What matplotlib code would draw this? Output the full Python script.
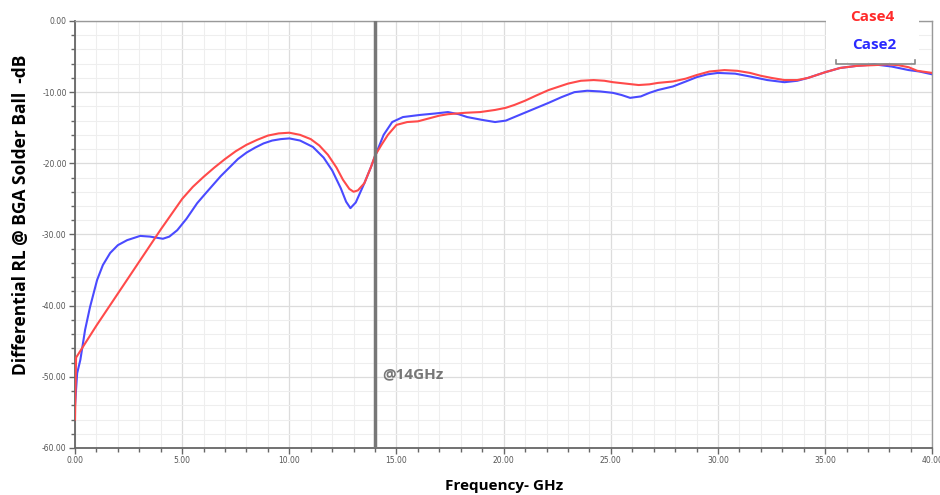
import numpy as np
import matplotlib
matplotlib.use("Agg")
from matplotlib import pyplot as plt
from matplotlib.patches import Rectangle
from matplotlib.ticker import MultipleLocator, FormatStrFormatter

# Return loss at the BGA solder ball, two cases
freq_case4 = [0.0, 0.05, 1.0, 2.0, 3.0, 4.0, 5.0, 5.5, 6.0, 6.5, 7.0, 7.5, 8.0, 8.5, 9.0,
              9.5, 10.0, 10.5, 11.0, 11.4, 11.8, 12.2, 12.5, 12.8, 13.0, 13.2, 13.5,
              13.8, 14.0, 14.3, 14.6, 15.0, 15.5, 16.0, 16.5, 17.0, 17.4, 18.2, 18.9,
              19.6, 20.1, 20.5, 21.0, 21.5, 22.1, 22.6, 23.0, 23.6, 24.2, 24.7, 25.1,
              25.7, 26.3, 26.8, 27.2, 27.9, 28.5, 29.0, 29.6, 30.3, 30.9, 31.5, 32.0,
              32.5, 33.1, 33.7, 34.2, 34.6, 35.0, 35.7, 36.5, 37.3, 37.9, 38.4, 38.9,
              39.3, 40.0]
rl_case4 = [-56.0, -47.3, -42.8, -38.3, -33.8, -29.3, -25.0, -23.3, -21.9, -20.6, -19.4,
            -18.3, -17.4, -16.7, -16.1, -15.8, -15.7, -16.0, -16.6, -17.5, -18.8, -20.6,
            -22.3, -23.6, -24.0, -23.8, -22.8, -20.6, -18.9, -17.4, -16.0, -14.6, -14.2,
            -14.1, -13.7, -13.3, -13.1, -12.9, -12.8, -12.5, -12.2, -11.8, -11.2, -10.5,
            -9.7, -9.2, -8.8, -8.4, -8.3, -8.4, -8.6, -8.8, -9.0, -8.9, -8.7, -8.5,
            -8.1, -7.6, -7.1, -6.9, -7.0, -7.3, -7.7, -8.0, -8.3, -8.3, -8.0, -7.6,
            -7.2, -6.6, -6.3, -6.2, -6.1, -6.2, -6.5, -7.0, -7.3]

freq_case2 = [0.0, 0.1, 0.25, 0.47, 0.7, 1.03, 1.3, 1.64, 2.0, 2.43, 3.04, 3.5, 4.1, 4.4,
              4.77, 5.2, 5.7, 6.1, 6.45, 6.8, 7.2, 7.6, 8.0, 8.4, 8.8, 9.2, 9.6, 10.0,
              10.5, 11.1, 11.6, 12.0, 12.4, 12.65, 12.85, 13.1, 13.5, 13.8, 14.0, 14.4,
              14.8, 15.3, 16.1, 16.8, 17.4, 17.9, 18.3, 19.0, 19.6, 20.1, 20.5, 21.3,
              22.1, 22.7, 23.3, 23.9, 24.5, 25.1, 25.5, 25.9, 26.4, 26.8, 27.2, 27.9,
              28.5, 29.0, 29.5, 30.0, 30.8, 31.5, 32.3, 33.1, 33.7, 34.2, 34.6, 35.0,
              35.7, 36.5, 37.3, 38.1, 38.9, 39.4, 40.0]
rl_case2 = [-54.0, -49.5, -47.6, -43.4, -40.2, -36.4, -34.3, -32.6, -31.5, -30.8, -30.2,
            -30.3, -30.6, -30.3, -29.4, -27.8, -25.6, -24.2, -23.0, -21.8, -20.6, -19.4,
            -18.5, -17.8, -17.2, -16.8, -16.6, -16.5, -16.8, -17.7, -19.2, -21.0, -23.5,
            -25.4, -26.3, -25.5, -22.8, -20.6, -19.0, -16.0, -14.2, -13.5, -13.2, -13.0,
            -12.8, -13.1, -13.5, -13.9, -14.2, -14.0, -13.5, -12.5, -11.5, -10.7, -10.0,
            -9.8, -9.9, -10.1, -10.4, -10.8, -10.6, -10.1, -9.7, -9.2, -8.5, -7.9, -7.5,
            -7.3, -7.4, -7.8, -8.3, -8.6, -8.4, -8.0, -7.6, -7.2, -6.6, -6.3, -6.1, -6.4,
            -6.9, -7.1, -7.5]

marker_freq = 14.0

fig = plt.figure(figsize=(9.4, 4.95), dpi=100)
ax = fig.add_axes([0.0798, 0.095, 0.912, 0.8626])

ax.plot(freq_case4, rl_case4, color="#ff4a4a", lw=1.5, zorder=3,
        solid_joinstyle="round")
ax.plot(freq_case2, rl_case2, color="#4a4aff", lw=1.5, zorder=2,
        solid_joinstyle="round")
ax.axvline(marker_freq, color="#777777", lw=2.5, zorder=4)
ax.text(marker_freq + 0.35, -49.6, "@14GHz", color="#777777", fontsize=11,
        fontweight="bold", family="Open Sans", va="center")

ax.set_xlim(0, 40)
ax.set_ylim(-60, 0)
ax.xaxis.set_major_locator(MultipleLocator(5))
ax.xaxis.set_minor_locator(MultipleLocator(1))
ax.yaxis.set_major_locator(MultipleLocator(10))
ax.yaxis.set_minor_locator(MultipleLocator(2))
ax.xaxis.set_major_formatter(FormatStrFormatter("%.2f"))
ax.yaxis.set_major_formatter(FormatStrFormatter("%.2f"))
ax.grid(which="major", color="#dcdcdc", lw=0.9)
ax.grid(which="minor", color="#eeeeee", lw=0.8)
ax.set_axisbelow(True)

ax.tick_params(which="both", direction="out", color="#666666", labelsize=5.5,
               labelcolor="#555555", pad=2)
ax.tick_params(which="major", length=4, width=1)
ax.tick_params(which="minor", length=3, width=1)
for side in ["left", "bottom"]:
    ax.spines[side].set_color("#666666")
    ax.spines[side].set_linewidth(1.3)
for side in ["top", "right"]:
    ax.spines[side].set_color("#999999")
    ax.spines[side].set_linewidth(1.0)

fig.text(0.022, 0.566, "Differential RL @ BGA Solder Ball  -dB", rotation=90,
         fontsize=12.5, fontweight="bold", family="Open Sans", ha="center",
         va="center")
fig.text(0.536, 0.018, "Frequency- GHz", fontsize=11, fontweight="bold",
         family="Open Sans", ha="center", va="center")

# legend patch on top of the frame
fig.patches.append(Rectangle((826 / 940, 1 - 62 / 495), 93 / 940, 62 / 495,
                             transform=fig.transFigure, facecolor="white",
                             edgecolor="none", zorder=5))
fig.lines.append(plt.Line2D([836 / 940, 836 / 940, 915 / 940, 915 / 940],
                            [1 - 60 / 495, 1 - 64 / 495, 1 - 64 / 495, 1 - 60 / 495],
                            transform=fig.transFigure, color="#888888", lw=1.2,
                            zorder=6))
fig.text(872 / 940, 1 - 17 / 495, "Case4", color="#ff2a2a", fontsize=11,
         fontweight="bold", family="Open Sans", ha="center", va="center", zorder=7)
fig.text(874 / 940, 1 - 45 / 495, "Case2", color="#2a2aff", fontsize=11,
         fontweight="bold", family="Open Sans", ha="center", va="center", zorder=7)

fig.savefig("out.png", dpi=100)
